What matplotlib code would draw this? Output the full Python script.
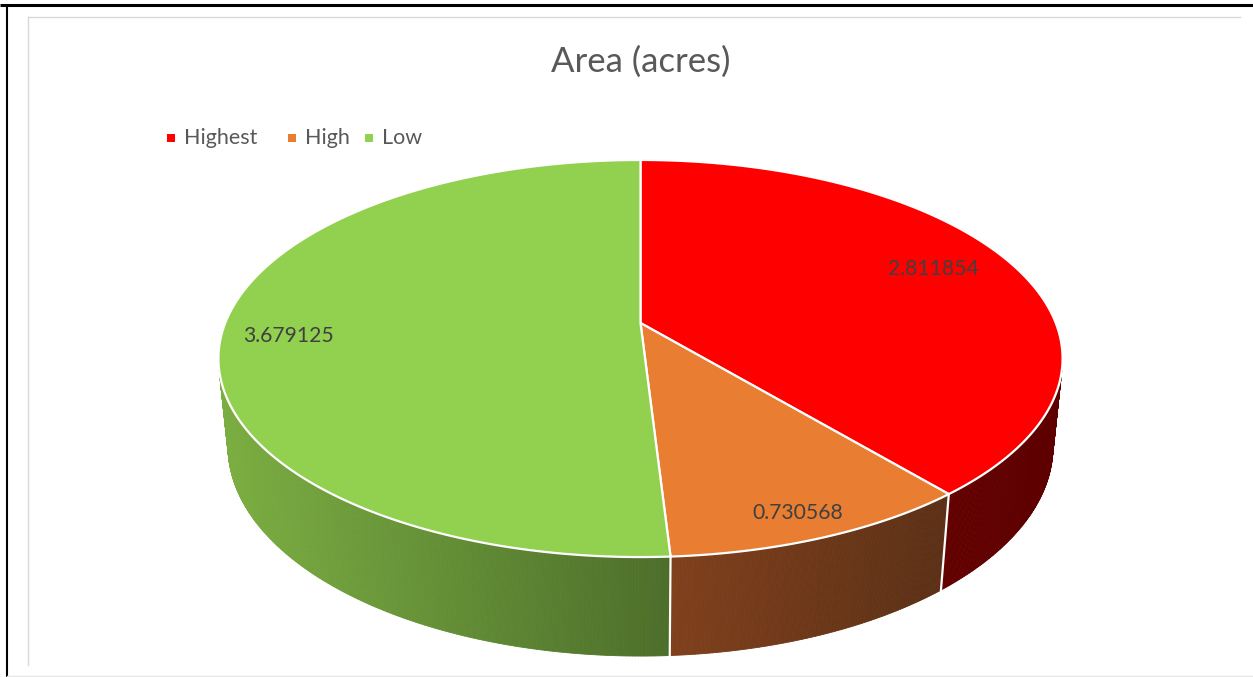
import numpy as np
import matplotlib
matplotlib.use("Agg")
import matplotlib.pyplot as plt
from matplotlib.patches import Polygon, Rectangle
from matplotlib.collections import PolyCollection
from matplotlib.colors import to_rgb

# ---------------- data ----------------
categories = ["Highest", "High", "Low"]
values = [2.811854, 0.730568, 3.679125]
value_labels = ["2.811854", "0.730568", "3.679125"]
title = "Area (acres)"

# ---------------- style ----------------
top_colors = ["#FF0000", "#E97D31", "#92D050"]
side_left_colors = ["#630000", "#80401C", "#7CAF42"]
side_right_colors = ["#5E0000", "#5B3016", "#4C6E2A"]
label_radius = [0.80, 0.90, 0.84]
label_angle_shift = [1.9, -0.6, 2.9]
legend_marker_x = [171, 292, 369]
FONT = ["Lato", "DejaVu Sans"]

W, H = 1253, 677
fig = plt.figure(figsize=(W / 100, H / 100), dpi=100)
ax = fig.add_axes([0, 0, 1, 1])
ax.set_xlim(0, W)
ax.set_ylim(H, 0)
ax.axis("off")

# frame lines
ax.plot([0, W], [5, 5], color="black", lw=2.2, solid_capstyle="butt")
ax.plot([7, 7], [5, H], color="black", lw=1.5, solid_capstyle="butt")
ax.plot([28, 1240], [17, 17], color="#D9D9D9", lw=1.0)
ax.plot([28, 28], [17, 665], color="#D9D9D9", lw=1.0)
ax.plot([7, W], [676, 676], color="#E6E6E6", lw=1.0)

# ---------------- 3D projection ----------------
CX, CY = 640.5, 323.0
F = 2058.0
D = 4.956
ELEV = np.deg2rad(27.57)
HGT = 0.2412
se, ce = np.sin(ELEV), np.cos(ELEV)


def proj(r, phi_deg, w=0.0):
    phi = np.deg2rad(phi_deg)
    x = r * np.cos(phi)
    d = r * np.sin(phi)
    U = w * ce + d * se
    Z = D + d * ce - w * se
    return CX + F * x / Z, CY - F * U / Z


vals = np.array(values, dtype=float)
frac = vals / vals.sum()
cum = np.concatenate([[0], np.cumsum(frac)])
a0s = 90 - cum[:-1] * 360
a1s = 90 - cum[1:] * 360


def visible_parts(a_hi, a_lo):
    parts = []
    for off in (0, -360, 360):
        lo = max(a_lo, -180 + off)
        hi = min(a_hi, 0 + off)
        if hi > lo:
            parts.append((lo, hi))
    return parts


# sides
boundary_lines = []
for i in range(len(values)):
    for lo, hi in visible_parts(a0s[i], a1s[i]):
        n = max(int((hi - lo) * 3), 2)
        phis = np.linspace(lo, hi, n + 1)
        tx, ty = proj(1.0, phis, 0.0)
        bx, by = proj(1.0, phis, -HGT)
        xmin, xmax = min(tx.min(), bx.min()), max(tx.max(), bx.max())
        cl = np.array(to_rgb(side_left_colors[i]))
        cr = np.array(to_rgb(side_right_colors[i]))
        polys, cols = [], []
        for k in range(n):
            polys.append([(tx[k], ty[k]), (tx[k + 1], ty[k + 1]),
                          (bx[k + 1], by[k + 1]), (bx[k], by[k])])
            xm = 0.25 * (tx[k] + tx[k + 1] + bx[k] + bx[k + 1])
            t = (xm - xmin) / (xmax - xmin)
            cols.append(tuple(cl + (cr - cl) * t))
        ax.add_collection(PolyCollection(polys, facecolors=cols, edgecolors=cols,
                                         linewidths=0.6, zorder=2))
        for a in (lo, hi):
            if a > -179.9 and a < -0.1:
                boundary_lines.append(a)

for a in set(np.round(boundary_lines, 6)):
    x0, y0 = proj(1.0, a, 0.0)
    x1, y1 = proj(1.0, a, -HGT)
    ax.plot([x0, x1], [y0, y1], color="white", lw=1.6, zorder=3)

# top surface
for i in range(len(values)):
    phis = np.linspace(a0s[i], a1s[i], 400)
    px, py = proj(1.0, phis, 0.0)
    cx0, cy0 = proj(0.0, 0.0, 0.0)
    pts = np.column_stack([np.concatenate([[cx0], px]), np.concatenate([[cy0], py])])
    ax.add_patch(Polygon(pts, closed=True, facecolor=top_colors[i], edgecolor="white",
                         lw=1.6, joinstyle="round", zorder=4))

# data labels
for i in range(len(values)):
    mid = 0.5 * (a0s[i] + a1s[i]) + label_angle_shift[i]
    lx, ly = proj(label_radius[i], mid, 0.0)
    ax.text(lx, ly, value_labels[i], ha="center", va="center", fontsize=15.2,
            color="#404040", family=FONT, zorder=6)

# title
ax.text(641, 62, title, ha="center", va="center", fontsize=25, color="#595959",
        family=FONT, zorder=6)

# legend
for i, name in enumerate(categories):
    mx = legend_marker_x[i]
    ax.add_patch(Rectangle((mx - 4, 134), 8, 8, facecolor=top_colors[i],
                           edgecolor="none", zorder=6))
    ax.text(mx + 13, 138, name, ha="left", va="center", fontsize=15.5,
            color="#595959", family=FONT, zorder=6)

fig.savefig("out.png", dpi=100)
